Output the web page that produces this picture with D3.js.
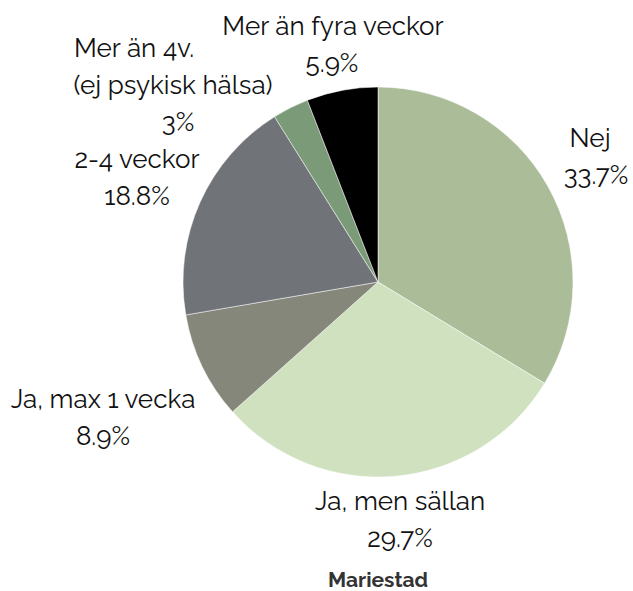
<!DOCTYPE html>
<html>
<head>
<meta charset="utf-8">
<script src="https://cdn.jsdelivr.net/npm/d3@7"></script>
<style>
  body { margin: 0; background: #fff; }
  svg text { font-family: Raleway, Lato, "Open Sans", sans-serif; }
</style>
</head>
<body>
<div class="js-chart"></div>
<script>
'use strict';

const categories = ["Nej", "Ja, men sällan", "Ja, max 1 vecka", "2-4 veckor", "Mer än 4v. (ej psykisk hälsa)", "Mer än fyra veckor"];
const labelLines = [["Nej"], ["Ja, men sällan"], ["Ja, max 1 vecka"], ["2-4 veckor"], ["Mer än 4v.", "(ej psykisk hälsa)"], ["Mer än fyra veckor"]];
const values = [33.7, 29.7, 8.9, 18.8, 3, 5.9];
const sliceColors = ["#aabd98", "#d0e1bf", "#85877a", "#707378", "#7a9a78", "#000000"];
const chartTitle = "Mariestad";

// label placement (layout only): centre x of each line, baseline of first line
const labelLayout = [
    { x: [590, 596], y: 147 },
    { x: [400, 400], y: 510 },
    { x: [103, 103], y: 408 },
    { x: [137, 137], y: 168 },
    { x: [134, 173, 178], y: 57 },
    { x: [333, 332], y: 35 }
];

const svgWidth = 633;
const svgHeight = 591;
const cx = 378;
const cy = 282;
const radius = 195;
const lineHeight = 37;

const svg = d3.select(".js-chart")
    .append("svg")
    .attr("width", svgWidth)
    .attr("height", svgHeight);

const pie = d3.pie().sort(null).value(d => d);
const arc = d3.arc().innerRadius(0).outerRadius(radius);
const arcs = pie(values);

const g = svg.append("g").attr("transform", `translate(${cx},${cy})`);

g.selectAll("path")
    .data(arcs)
    .enter()
    .append("path")
    .attr("d", arc)
    .attr("fill", (d, i) => sliceColors[i])
    .attr("stroke", "#ffffff")
    .attr("stroke-width", 0.5);

// labels: name lines then percent
arcs.forEach(function(d, i) {
    const lines = labelLines[i].concat([d.data + "%"]);
    const layout = labelLayout[i];
    lines.forEach(function(line, j) {
        svg.append("text")
            .text(line)
            .attr("x", layout.x[j])
            .attr("y", layout.y + j * lineHeight)
            .attr("text-anchor", "middle")
            .attr("font-size", "26px")
            .attr("font-weight", 400)
            .attr("fill", "#111");
    });
});

svg.append("text")
    .text(chartTitle)
    .attr("x", cx)
    .attr("y", 587)
    .attr("text-anchor", "middle")
    .attr("font-size", "21px")
    .attr("font-weight", "bold")
    .attr("fill", "#333");
</script>
</body>
</html>
